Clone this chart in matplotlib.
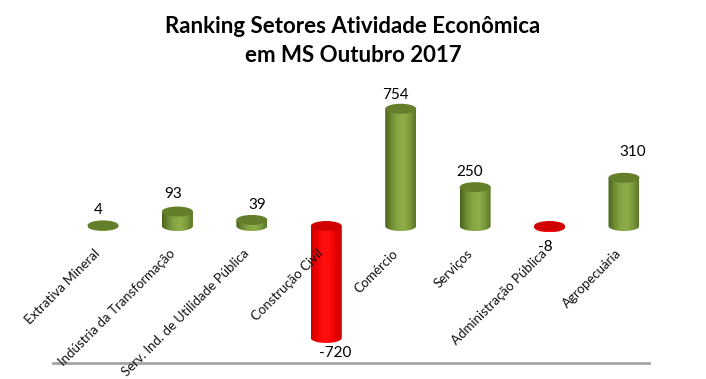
import numpy as np
import matplotlib.pyplot as plt
from matplotlib.path import Path
from matplotlib.patches import PathPatch, Ellipse
from matplotlib.colors import LinearSegmentedColormap

categories = ['Extrativa Mineral', 'Indústria da Transformação',
              'Serv. Ind. de Utilidade Pública', 'Construção Civil',
              'Comércio', 'Serviços', 'Administração Pública', 'Agropecuária']
values = [4, 93, 39, -720, 754, 250, -8, 310]

# label nudges in pixels (value labels are not perfectly placed in the original)
label_dx = [-5, -4, 5, 9, -5, -6, -4, 9]
label_dy = [15, 18, 15, -15, 14, 15, -20, 26]

plt.rcParams['font.family'] = ['Lato', 'DejaVu Sans']

green = LinearSegmentedColormap.from_list('g', ['#4b6120', '#6d8a30', '#86a544', '#8fae4b', '#7b9a3a', '#5b7527'])
red = LinearSegmentedColormap.from_list('r', ['#c80000', '#f00000', '#ff1010', '#ff0a0a', '#e80000', '#c40000'])

fig = plt.figure(figsize=(7.06, 3.79), dpi=100)
ax = fig.add_axes([53/706, 1 - 363/379, 596/706, 283/379])

xlim = (-0.672, 7.336)
ylim = (-881, 939)
bw = 31 / 74.43           # bar width in data units
eh = 10 * 6.43            # ellipse height in data units


def cylinder(x, v):
    cmap, top = (green, '#637f29') if v >= 0 else (red, '#d00000')
    lo, hi = min(0, v), max(0, v)
    x0, x1 = x - bw / 2, x + bw / 2
    t = np.linspace(np.pi, 2 * np.pi, 50)
    verts = [(x0, hi)] + list(zip(x + bw / 2 * np.cos(t), lo + eh / 2 * np.sin(t))) + [(x1, hi), (x0, hi)]
    codes = [Path.MOVETO] + [Path.LINETO] * (len(verts) - 2) + [Path.CLOSEPOLY]
    patch = PathPatch(Path(verts, codes), facecolor='none', edgecolor='none')
    ax.add_patch(patch)
    grad = np.linspace(0, 1, 256).reshape(1, -1)
    im = ax.imshow(grad, cmap=cmap, extent=(x0, x1, lo - eh / 2, hi),
                   aspect='auto', zorder=2, interpolation='bilinear')
    im.set_clip_path(patch)
    ax.add_patch(Ellipse((x, hi), bw, eh, facecolor=top, edgecolor='none', zorder=3))


for i, v in enumerate(values):
    cylinder(i, v)
    ax.annotate(str(v), (i, v), xytext=(label_dx[i], label_dy[i]),
                textcoords='offset pixels', ha='center', va='center',
                fontsize=11, color='black', zorder=5)
    ax.annotate(categories[i], (i, 0), xytext=(-9, -21), textcoords='offset pixels',
                ha='right', va='top', rotation=45, rotation_mode='anchor',
                fontsize=9.5, color='#111111', zorder=4)

ax.set_xlim(*xlim)
ax.set_ylim(*ylim)
ax.set_xticks([])
ax.set_yticks([])
for s in ['top', 'left', 'right']:
    ax.spines[s].set_visible(False)
ax.spines['bottom'].set_color('#a6a6a6')
ax.spines['bottom'].set_linewidth(2)

fig.text(0.5, 1 - 41 / 379, 'Ranking Setores Atividade Econômica\nem MS Outubro 2017',
         ha='center', va='center', fontsize=16, fontweight='bold', linespacing=1.45)

fig.savefig('out.png', dpi=100)
